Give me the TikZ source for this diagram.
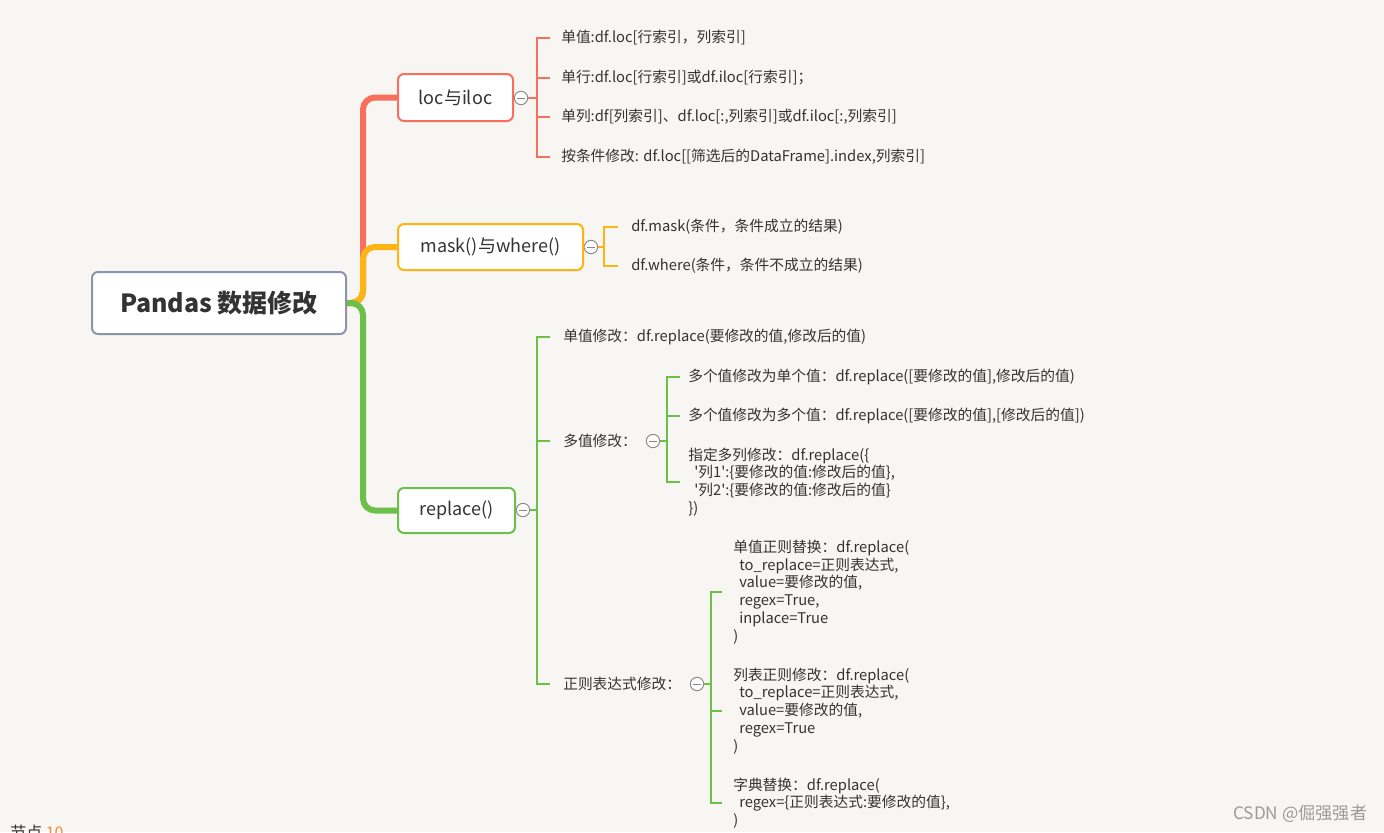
\documentclass[tikz,border=0pt]{standalone}
\usepackage{fontspec}
\setmainfont{Noto Sans CJK SC}
\usetikzlibrary{calc}
\definecolor{bg}{HTML}{F7F6F2}
\definecolor{txt}{HTML}{333333}
\definecolor{cred}{HTML}{F7705E}
\definecolor{corange}{HTML}{FDB515}
\definecolor{cgreen}{HTML}{6CC04A}
\definecolor{croot}{HTML}{8C96AA}
\definecolor{cgray}{HTML}{8A8A8A}
\definecolor{cnum}{HTML}{F08A3C}
\definecolor{cmark}{HTML}{9A9A9A}
\newcommand{\sq}{\textquotesingle}
\tikzset{
  leaf/.style={anchor=west, inner sep=0pt, text=txt, align=left,
    font=\fontsize{11.05pt}{13.35pt}\selectfont},
  topic/.style={draw, line width=1.5pt, rounded corners=4.5pt, fill=white,
    text=txt, inner sep=0pt, font=\fontsize{13.5pt}{16pt}\selectfont},
  toggle/.style={circle, draw=cgray, line width=0.75pt, fill=white,
    minimum size=10pt, inner sep=0pt,
    path picture={\draw[cgray, line width=0.75pt]
      ([xshift=2.2pt]path picture bounding box.west) --
      ([xshift=-2.2pt]path picture bounding box.east);}},
  branch/.style={line width=4.5pt, rounded corners=9pt},
  twig/.style={line width=1.5pt},
}
\begin{document}
\begin{tikzpicture}[x=0.75pt,y=-0.75pt]
\fill[bg] (0,0) rectangle (1384,832);
\useasboundingbox (0,0) rectangle (1384,832);

% topics
\node[topic, draw=croot, minimum width=190.5pt, minimum height=46.5pt,
  font=\fontsize{18.75pt}{22pt}\selectfont\bfseries] (root) at (219,303) {Pandas 数据修改};
\node[topic, draw=cred, minimum width=86.25pt, minimum height=35.25pt] (loc) at (455.5,97.5) {loc与iloc};
\node[topic, draw=corange, minimum width=138.75pt, minimum height=34.5pt] (mask) at (490.5,247) {mask()与where()};
\node[topic, draw=cgreen, minimum width=87.75pt, minimum height=33.75pt] (rep) at (456.5,510.5) {replace()};

% main branches
\coordinate (trk) at (363,303);
\draw[branch, cred] (root.east) -- (trk) |- (loc.west);
\draw[branch, corange] (root.east) -- (trk) |- (mask.west);
\draw[branch, cgreen] (root.east) -- (trk) |- (rep.west);

% toggles
\node[toggle] (t1) at (521,98) {};
\node[toggle] (t2) at (591,247) {};
\node[toggle] (t3) at (523,510) {};

% loc children
\node[leaf] (l1) at (561,38) {单值:df.loc[行索引，列索引]};
\node[leaf] (l2) at (561,78) {单行:df.loc[行索引]或df.iloc[行索引]；};
\node[leaf] (l3) at (561,117) {单列:df[列索引]、df.loc[:,列索引]或df.iloc[:,列索引]};
\node[leaf] (l4) at (561,157) {按条件修改: df.loc[[筛选后的DataFrame].index,列索引]};
\coordinate (b1) at (537,98);
\draw[twig, cred] (loc.east) -- (t1.west);
\draw[twig, cred] (t1.east) -- (b1);
\foreach \n in {l1,l2,l3,l4}
  \draw[twig, cred] (b1) |- ($(\n.west)+(-11,0)$);

% mask children
\node[leaf] (m1) at (631,227) {df.mask(条件，条件成立的结果)};
\node[leaf] (m2) at (631,266) {df.where(条件，条件不成立的结果)};
\coordinate (b2) at (604,247);
\draw[twig, corange] (mask.east) -- (t2.west);
\draw[twig, corange] (t2.east) -- (b2);
\foreach \n in {m1,m2}
  \draw[twig, corange] (b2) |- ($(\n.west)+(-13,0)$);

% replace children
\node[leaf] (r1) at (563,337) {单值修改：df.replace(要修改的值,修改后的值)};
\node[leaf] (r2) at (563,441) {多值修改：};
\node[leaf] (r3) at (563,684) {正则表达式修改：};
\coordinate (b3) at (537,510);
\draw[twig, cgreen] (rep.east) -- (t3.west);
\draw[twig, cgreen] (t3.east) -- (b3);
\foreach \n in {r1,r2,r3}
  \draw[twig, cgreen] (b3) |- ($(\n.west)+(-13,0)$);

% multi-value children
\node[toggle] (t4) at (653,441) {};
\node[leaf] (p1) at (688,377) {多个值修改为单个值：df.replace([要修改的值],修改后的值)};
\node[leaf] (p2) at (688,416) {多个值修改为多个值：df.replace([要修改的值],[修改后的值])};
\node[leaf] (p3) at (688,482) {指定多列修改：df.replace(\{\\
\hspace{4.5pt}\sq 列1\sq:\{要修改的值:修改后的值\},\\
\hspace{4.5pt}\sq 列2\sq:\{要修改的值:修改后的值\}\\
\})};
\coordinate (b4) at (667,441);
\draw[twig, cgreen] (t4.east) -- (b4);
\foreach \n in {p1,p2,p3}
  \draw[twig, cgreen] (b4) |- ($(\n.west)+(-8,0)$);

% regex children
\node[toggle] (t5) at (697,684) {};
\node[leaf] (q1) at (733,592) {单值正则替换：df.replace(\\
\hspace{4.5pt}to\_replace=正则表达式,\\
\hspace{4.5pt}value=要修改的值,\\
\hspace{4.5pt}regex=True,\\
\hspace{4.5pt}inplace=True\\
)};
\node[leaf] (q2) at (733,711) {列表正则修改：df.replace(\\
\hspace{4.5pt}to\_replace=正则表达式,\\
\hspace{4.5pt}value=要修改的值,\\
\hspace{4.5pt}regex=True\\
)};
\node[leaf] (q3) at (733,803) {字典替换：df.replace(\\
\hspace{4.5pt}regex=\{正则表达式:要修改的值\},\\
)};
\coordinate (b5) at (711,684);
\draw[twig, cgreen] (t5.east) -- (b5);
\foreach \n in {q1,q2,q3}
  \draw[twig, cgreen] (b5) |- ($(\n.west)+(-11,0)$);

% status text and watermark
\node[anchor=north west, inner sep=0pt, text=txt, font=\fontsize{12pt}{14pt}\selectfont] (status) at (10,825) {节点 \textcolor{cnum}{10}};
\node[anchor=west, inner sep=0pt, text=cmark, font=\fontsize{12.9pt}{15pt}\selectfont] (mark) at (1233,814) {CSDN @倔强强者};
\end{tikzpicture}
\end{document}
